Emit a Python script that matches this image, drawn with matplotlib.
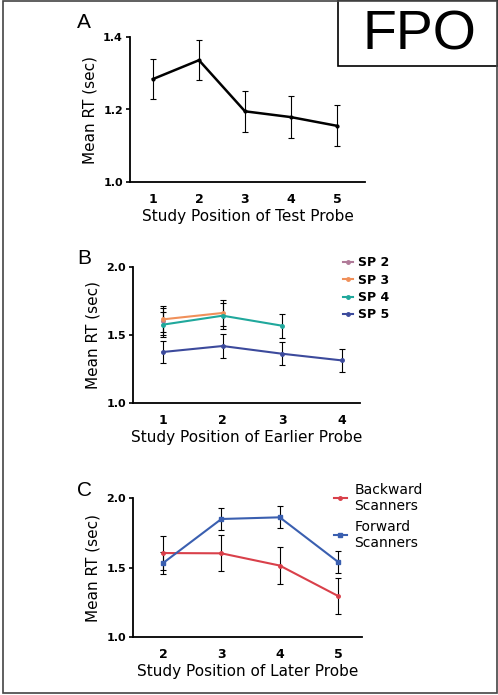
import numpy as np
import matplotlib.pyplot as plt
from matplotlib.patches import Rectangle
from matplotlib.lines import Line2D

plt.rcParams['font.family'] = ['DejaVu Sans']

# panel A
pos_a = [1, 2, 3, 4, 5]
rt_a = [1.284, 1.336, 1.195, 1.179, 1.155]
err_a = [0.055, 0.056, 0.057, 0.057, 0.057]

# panel B
sp2_x = [1]
sp2_y = [1.60]
sp2_e = [0.10]
sp3_x = [1, 2]
sp3_y = [1.615, 1.662]
sp3_e = [0.095, 0.093]
sp4_x = [1, 2, 3]
sp4_y = [1.576, 1.642, 1.568]
sp4_e = [0.09, 0.095, 0.09]
sp5_x = [1, 2, 3, 4]
sp5_y = [1.375, 1.419, 1.362, 1.313]
sp5_e = [0.083, 0.085, 0.084, 0.086]

# panel C
pos_c = [2, 3, 4, 5]
back_y = [1.604, 1.602, 1.514, 1.295]
back_e = [0.125, 0.13, 0.132, 0.13]
fwd_y = [1.532, 1.849, 1.861, 1.540]
fwd_e = [0.08, 0.076, 0.08, 0.08]

W, H = 498, 695
fig = plt.figure(figsize=(W / 100, H / 100), dpi=100)


def px_axes(l, r, t, b):
    return fig.add_axes([l / W, 1 - b / H, (r - l) / W, (b - t) / H])


def style(ax, xlabel):
    for s in ['top', 'right']:
        ax.spines[s].set_visible(False)
    for s in ['left', 'bottom']:
        ax.spines[s].set_linewidth(1.3)
    ax.tick_params(axis='y', length=3, width=1.2, labelsize=8, pad=2)
    ax.tick_params(axis='x', length=0, labelsize=9, pad=8)
    for t in ax.get_xticklabels() + ax.get_yticklabels():
        t.set_fontweight('bold')
    ax.set_xlabel(xlabel, fontsize=11, labelpad=2)
    ax.set_ylabel('Mean RT (sec)', fontsize=11, labelpad=4)


ebkw = dict(ecolor='black', elinewidth=0.8, capsize=2, capthick=0.8)

# A
ax = px_axes(130, 365, 37, 182)
ax.errorbar(pos_a, rt_a, yerr=err_a, color='black', lw=1.8, marker='o', ms=2, **ebkw)
ax.set_xlim(0.5, 5.61)
ax.set_ylim(1.0, 1.4)
ax.set_xticks(pos_a)
ax.set_yticks([1.0, 1.2, 1.4])
ax.set_yticklabels(['1.0', '1.2', '1.4'])
style(ax, 'Study Position of Test Probe')

# B
ax = px_axes(133, 360, 267, 403)
handles = []
for x, y, e, c, lab in [(sp2_x, sp2_y, sp2_e, '#b07a98', 'SP 2'),
                        (sp3_x, sp3_y, sp3_e, '#f0905a', 'SP 3'),
                        (sp4_x, sp4_y, sp4_e, '#20a89c', 'SP 4'),
                        (sp5_x, sp5_y, sp5_e, '#3c4a9c', 'SP 5')]:
    ax.errorbar(x, y, yerr=e, color=c, lw=1.5, marker='o', ms=2.5, **ebkw)
    handles.append(Line2D([], [], color=c, lw=1.5, marker='o', ms=2.5, label=lab))
ax.set_xlim(0.5, 4.3)
ax.set_ylim(1.0, 2.0)
ax.set_xticks([1, 2, 3, 4])
ax.set_yticks([1.0, 1.5, 2.0])
style(ax, 'Study Position of Earlier Probe')
fig.legend(handles=handles, loc='upper left', bbox_to_anchor=(332 / W, 1 - 245 / H),
           frameon=False, handlelength=0.8, handletextpad=0.4, labelspacing=0.35,
           prop={'size': 9, 'weight': 'bold'})

# C
ax = px_axes(133, 362, 498, 637)
ax.errorbar(pos_c, back_y, yerr=back_e, color='#d9404a', lw=1.5, marker='o', ms=2.5, **ebkw)
ax.errorbar(pos_c, fwd_y, yerr=fwd_e, color='#3a5fb0', lw=1.5, marker='s', ms=3, **ebkw)
ax.set_xlim(1.485, 5.41)
ax.set_ylim(1.0, 2.0)
ax.set_xticks(pos_c)
ax.set_yticks([1.0, 1.5, 2.0])
style(ax, 'Study Position of Later Probe')
handles = [Line2D([], [], color='#d9404a', lw=1.5, marker='o', ms=2.5, label='Backward\nScanners'),
           Line2D([], [], color='#3a5fb0', lw=1.5, marker='s', ms=3, label='Forward\nScanners')]
fig.legend(handles=handles, loc='upper left', bbox_to_anchor=(321 / W, 1 - 470 / H),
           frameon=False, handlelength=1.0, handletextpad=0.5, labelspacing=0.5,
           prop={'size': 10})

# panel letters
for letter, x, y in [('A', 84, 22), ('B', 84, 258), ('C', 84, 490)]:
    fig.text(x / W, 1 - y / H, letter, fontsize=15, family='Liberation Sans',
             ha='center', va='center')

# FPO box and figure frame
fig.patches.append(Rectangle((338 / W, 1 - 66 / H), (W - 338) / W, 66 / H,
                             transform=fig.transFigure, fill=False, ec='black', lw=1.2))
fig.text(419 / W, 1 - 35 / H, 'FPO', fontsize=40, family='Liberation Sans',
         ha='center', va='center')
fig.patches.append(Rectangle((3 / W, 2 / H), (W - 4) / W, (H - 3) / H,
                             transform=fig.transFigure, fill=False, ec='#444444', lw=1.2))

fig.savefig('out.png', dpi=100)
